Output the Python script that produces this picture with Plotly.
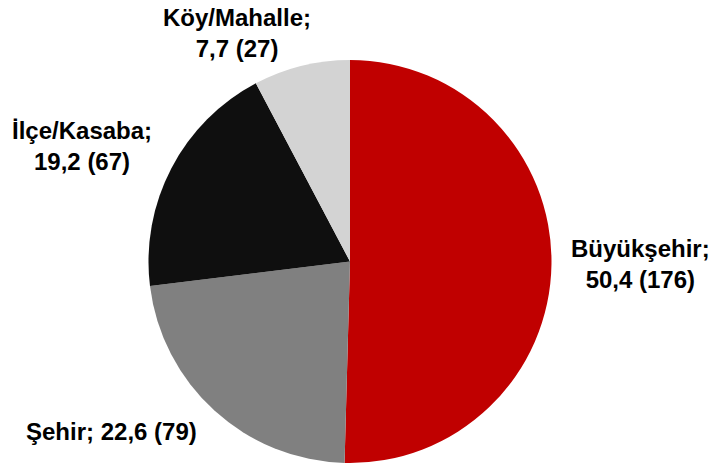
import plotly.graph_objects as go

labels = ["Büyükşehir", "Şehir", "İlçe/Kasaba", "Köy/Mahalle"]
counts = [176, 79, 67, 27]
colors = ["#C00000", "#808080", "#0F0F0F", "#D3D3D3"]
# label anchor positions (paper coords) and whether label is single-line
label_pos = [(0.899, 0.431), (0.157, 0.069), (0.115, 0.685), (0.332, 0.928)]
single_line = [False, True, False, False]

total = sum(counts)

fig = go.Figure(go.Pie(
    labels=labels, values=counts, sort=False, direction="clockwise", rotation=0,
    marker=dict(colors=colors, line=dict(width=0)),
    textinfo="none", hoverinfo="label+value+percent", showlegend=False,
    domain=dict(x=[148/713, 552/713], y=[1/464, 404/464]),
))

for lab, c, (x, y), single in zip(labels, counts, label_pos, single_line):
    pct = f"{c/total*100:.1f}".replace(".", ",")
    sep = " " if single else "<br>"
    fig.add_annotation(
        x=x, y=y, xref="paper", yref="paper", showarrow=False,
        text=f"<b>{lab};{sep}{pct} ({c})</b>", align="center",
        font=dict(family="Liberation Sans, Arial, sans-serif", size=24, color="#000000"),
        xanchor="center", yanchor="middle",
    )

fig.update_layout(
    width=713, height=464, margin=dict(l=0, r=0, t=0, b=0),
    paper_bgcolor="white", plot_bgcolor="white",
)
fig.write_html("out.html", config={"displayModeBar": False},
               post_script="document.body.style.margin='0';")
